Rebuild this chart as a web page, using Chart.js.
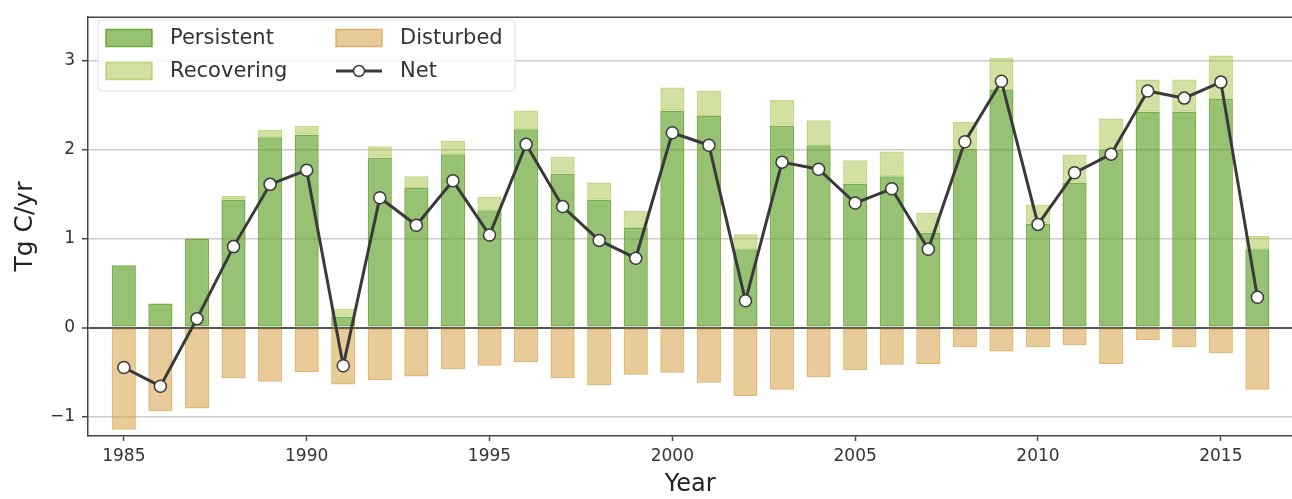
<!DOCTYPE html>
<html>
<head>
<meta charset="utf-8">
<script src="https://cdn.jsdelivr.net/npm/chart.js@4"></script>
<style>
  body { margin: 0; background: #fff; overflow: hidden; }
  #wrap { width: 1300px; height: 499px; }
</style>
</head>
<body>
<div id="wrap"><canvas id="carbonChart"></canvas></div>
<script>
const years = [1985, 1986, 1987, 1988, 1989, 1990, 1991, 1992, 1993, 1994, 1995, 1996, 1997, 1998, 1999, 2000,
  2001, 2002, 2003, 2004, 2005, 2006, 2007, 2008, 2009, 2010, 2011, 2012, 2013, 2014, 2015, 2016];
const persistent = [0.70, 0.27, 1.00, 1.44, 2.14, 2.17, 0.12, 1.91, 1.57, 1.95, 1.32, 2.23, 1.73, 1.44, 1.12, 2.44,
  2.38, 0.88, 2.27, 2.05, 1.62, 1.70, 1.07, 2.01, 2.67, 1.17, 1.63, 2.00, 2.43, 2.43, 2.57, 0.88];
const recovering = [0.00, 0.00, 0.00, 0.04, 0.08, 0.10, 0.09, 0.13, 0.13, 0.15, 0.15, 0.21, 0.19, 0.19, 0.19, 0.26,
  0.28, 0.17, 0.29, 0.28, 0.26, 0.28, 0.22, 0.30, 0.36, 0.21, 0.31, 0.35, 0.36, 0.36, 0.49, 0.15];
const disturbed = [-1.15, -0.94, -0.91, -0.57, -0.61, -0.50, -0.64, -0.59, -0.55, -0.47, -0.43, -0.39, -0.57, -0.65, -0.53, -0.51,
  -0.62, -0.77, -0.70, -0.56, -0.48, -0.42, -0.41, -0.22, -0.27, -0.22, -0.20, -0.41, -0.14, -0.22, -0.29, -0.70];
const net = [-0.45, -0.66, 0.10, 0.91, 1.61, 1.77, -0.43, 1.46, 1.15, 1.65, 1.04, 2.06, 1.36, 0.98, 0.78, 2.19,
  2.05, 0.30, 1.86, 1.78, 1.40, 1.56, 0.88, 2.09, 2.77, 1.16, 1.74, 1.95, 2.66, 2.58, 2.76, 0.34];
const xTicks = [1985, 1990, 1995, 2000, 2005, 2010, 2015];
const yTicks = [-1, 0, 1, 2, 3];

const FONT = "'DejaVu Sans', sans-serif";
const colors = {
  persistent: "rgba(95,160,40,0.65)", persistentEdge: "rgba(95,160,40,0.85)",
  recovering: "rgba(165,195,70,0.5)", recoveringEdge: "rgba(165,195,70,0.65)",
  disturbed: "rgba(215,160,70,0.55)", disturbedEdge: "rgba(215,160,70,0.75)",
  net: "#3a3a3a"
};

function pts(vals) {
  return vals.map((v, i) => ({ x: years[i], y: v }));
}

// top frame line + matplotlib style legend
const framePlugin = {
  id: "frame",
  afterDraw(chart) {
    const { ctx, chartArea } = chart;
    ctx.save();
    ctx.strokeStyle = "#444";
    ctx.lineWidth = 1.5;
    ctx.beginPath();
    ctx.moveTo(chartArea.left, chartArea.top);
    ctx.lineTo(chartArea.right, chartArea.top);
    ctx.stroke();

    // legend box
    const bx = 98, by = 20, bw = 417, bh = 71, r = 4;
    ctx.fillStyle = "rgba(255,255,255,0.8)";
    ctx.strokeStyle = "#dcdcdc";
    ctx.lineWidth = 1;
    ctx.beginPath();
    ctx.roundRect(bx, by, bw, bh, r);
    ctx.fill();
    ctx.stroke();

    const items = [
      { label: "Persistent", x: 106, y: 38, fill: colors.persistent, edge: colors.persistentEdge },
      { label: "Recovering", x: 106, y: 71, fill: colors.recovering, edge: colors.recoveringEdge },
      { label: "Disturbed", x: 336, y: 38, fill: colors.disturbed, edge: colors.disturbedEdge },
      { label: "Net", x: 336, y: 71, line: true }
    ];
    ctx.font = "21px " + FONT;
    ctx.textBaseline = "middle";
    for (const it of items) {
      if (it.line) {
        ctx.strokeStyle = colors.net;
        ctx.lineWidth = 3;
        ctx.beginPath();
        ctx.moveTo(it.x, it.y);
        ctx.lineTo(it.x + 46, it.y);
        ctx.stroke();
        ctx.fillStyle = "#fff";
        ctx.lineWidth = 1.5;
        ctx.beginPath();
        ctx.arc(it.x + 23, it.y, 5.5, 0, Math.PI * 2);
        ctx.fill();
        ctx.stroke();
      } else {
        ctx.fillStyle = it.fill;
        ctx.fillRect(it.x, it.y - 8.5, 46, 17);
        ctx.strokeStyle = it.edge;
        ctx.lineWidth = 1.5;
        ctx.strokeRect(it.x, it.y - 8.5, 46, 17);
      }
      ctx.fillStyle = "#333";
      ctx.fillText(it.label, it.x + 64, it.y + 1);
    }
    ctx.restore();
  }
};

new Chart(document.getElementById("carbonChart").getContext("2d"), {
  data: {
    datasets: [
      {
        type: "line", label: "Net", data: pts(net), order: 0, stack: "net",
        borderColor: colors.net, borderWidth: 3, tension: 0,
        pointRadius: 6, pointBackgroundColor: "#fff", pointBorderColor: colors.net, pointBorderWidth: 1.5
      },
      {
        type: "bar", label: "Persistent", data: pts(persistent), order: 1, stack: "bars",
        backgroundColor: colors.persistent, borderColor: colors.persistentEdge, borderWidth: 1.5, borderSkipped: false
      },
      {
        type: "bar", label: "Recovering", data: pts(recovering), order: 2, stack: "bars",
        backgroundColor: colors.recovering, borderColor: colors.recoveringEdge, borderWidth: 1.5, borderSkipped: false
      },
      {
        type: "bar", label: "Disturbed", data: pts(disturbed), order: 3, stack: "bars",
        backgroundColor: colors.disturbed, borderColor: colors.disturbedEdge, borderWidth: 1.5, borderSkipped: false
      }
    ]
  },
  options: {
    responsive: true,
    maintainAspectRatio: false,
    animation: false,
    layout: { padding: { top: 10, left: 0, right: 0, bottom: 0 } },
    datasets: { bar: { barPercentage: 0.66, categoryPercentage: 1.0 } },
    plugins: { legend: { display: false }, tooltip: { enabled: false } },
    scales: {
      x: {
        type: "linear", stacked: true, offset: false,
        min: 1984.02, max: 2016.96,
        afterBuildTicks: s => { s.ticks = xTicks.map(v => ({ value: v })); },
        afterFit: s => { s.height = 63; },
        ticks: { callback: v => String(v), font: { family: FONT, size: 17 }, color: "#333", padding: 5, maxRotation: 0 },
        grid: { offset: false, drawOnChartArea: false, drawTicks: true, tickLength: 5, tickColor: "#444", tickWidth: 1.5 },
        border: { color: "#444", width: 1.5 },
        title: { display: true, text: "Year", font: { family: FONT, size: 24 }, color: "#222", padding: { top: 0, bottom: 0 } }
      },
      y: {
        stacked: true,
        min: -1.22, max: 3.49,
        afterBuildTicks: s => { s.ticks = yTicks.map(v => ({ value: v })); },
        afterFit: s => { s.width = 88; },
        ticks: { callback: v => (v < 0 ? "\u2212" + Math.abs(v) : String(v)), font: { family: FONT, size: 17 }, color: "#333", padding: 7 },
        grid: {
          color: c => (c.tick && c.tick.value === 0 ? "#555" : "#cccccc"),
          lineWidth: c => (c.tick && c.tick.value === 0 ? 2 : 1.5),
          drawTicks: true, tickLength: 6, tickColor: "#444", tickWidth: 1.5
        },
        border: { color: "#444", width: 1.5 },
        title: { display: true, text: "Tg C/yr", font: { family: FONT, size: 25 }, color: "#222", padding: { top: 10, bottom: 0 } }
      }
    }
  },
  plugins: [framePlugin]
});
</script>
</body>
</html>
